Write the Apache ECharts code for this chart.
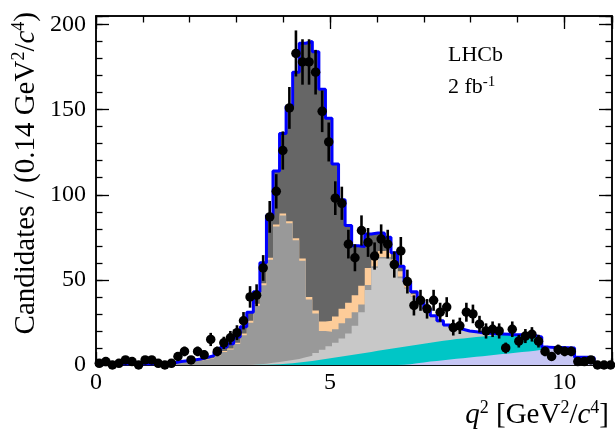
<!DOCTYPE html>
<html><head><meta charset="utf-8">
<script src="https://cdn.jsdelivr.net/npm/echarts@6/dist/echarts.min.js"></script>
<style>html,body{margin:0;padding:0;background:#fff}#c{width:615px;height:439px}</style>
</head><body><div id="c"></div>
<script>
// ---- data (79 bins of 0.14 GeV^2/c^4 starting at 0) ----
const binWidth = 0.14;
const dataCounts = [1,2,0,1,3,2,0,3,3,1,0,1,5,8,3,8,6,15,8,13,16,19,26,40,41,57,87,102,126,151,183,178,178,172,149,131,98,95,71,63,79,72,64,74,71,59,67,49,35,38,33,38,31,34,22,23,31,30,24,20,21,20,10,21,14,17,18,14,8,5,9,8,8,2,2,3,0,0,0];
const lavender = [0,0,0,0,0,0,0,0,0,0, 0,0,0,0,0,0,0,0,0,0, 0,0,0,0,0,0,0,0,0,0, 0,0,0,0,0,0,0,0,0,0, 0,0,0,0,0,0,0.2,0.5,1,1.5, 2,2.4,2.8,3.2,3.6,4,4.4,4.8,5.2,5.6, 6,6.4,6.8,7.2,7.6,8,8.4,9,10.5,10.3, 10.3,10.2,10,4.5,4.5,4.2,0.8,0.5,0.5];
const cyan = [0,0,0,0,0,0,0,0,0,0, 0,0,0,0,0,0,0,0,0,0, 0,0,0.02,0.05,0.1,0.2,0.3,0.5,0.8,1.1, 1.5,1.9,2.4,2.9,3.5,4.1,4.7,5.3,5.9,6.5, 7.1,7.7,8.3,8.9,9.5,10.1,10.5,10.8,10.9,11.0, 11.1,11.3,11.4,11.5,11.6,11.6,11.6,11.6,11.6,11.5, 11.4,11.2,11.0,10.6,10.2,9.6,8.8,7.5,0,0, 0,0,0,0,0,0,0,0,0];
const lightGrey = [0,0,0,0,0,0,0,0,0,0, 0,0,0,0,0,0,0,0,0,0, 0,0,0.03,0.15,0.4,0.6,1.0,1.3,1.6,1.9, 2.0,2.6,3.1,4.1,5.5,6.9,8.3,10.2,12.6,16.5, 23.9,36.3,48.7,53.6,52.5,47.9,40.3,33.7,28.1,23, 18.1,14,10.8,8.1,6.3,5.1,3.8,3.0,2.2,1.5, 1.0,0.6,0.2,0,0,0,0,0,0,0, 0,0,0,0,0,0,0,0,0];
const mediumGrey = [0.8,0.8,0.8,0.8,0.8,0.8,0.8,0.8,0.8,0.8, 1.0,1.2,1.8,2.1,2.4,2.5,3.3,3.8,5.3,7.7, 9.1,12.3,17.4,24.6,34.3,46,60.5,79.5,85.4,80.3, 69.8,56.8,33,23.2,11,8.5,8,9,9,8, 4.6,3,1,1,1.5,1,1,0.5,0.3,0.5, 0.3,0.2,0.2,0.1,0.1,0.1,0,0,0,0, 0,0,0,0,0,0,0,0,0,0, 0,0,0,0,0,0,0,0,0];
const peach = [0,0,0,0,0,0,0,0,0,0, 0,0,0,0.1,0.1,0.2,0.2,0.3,0.4,0.5, 0.6,0.8,1.0,1.2,1.2,1.2,1.2,1.2,1.2,1.2, 1.2,1.2,1.5,1.8,5.5,6.5,7.5,8.5,9,10, 11,10,6,3.5,4,3,3,1.5,1.2,1.0, 0.8,0.6,0.5,0.4,0.3,0.2,0.2,0.1,0,0, 0,0,0,0,0,0,0,0,0,0, 0,0,0,0,0,0,0,0,0];
const darkGrey = [0,0,0,0,0,0,0,0,0,0, 0,0.1,0.2,0.3,0.5,0.8,1.0,1.4,1.8,2.3, 2.8,3.4,4,5,7,12,25,31.5,47,67.5, 97.5,126.5,150,152,136.5,119,89.5,64,45.5,29, 23,20,13.5,10.5,7.5,4,3,2,1.5,1, 0.7,0.5,0.3,0.2,0.1,0,0,0,0,0, 0,0,0,0,0,0,0,0,0,0, 0,0,0,0,0,0,0,0,0];
const xTickLabels = ['0','5','10'];
const yTickLabels = ['0','50','100','150','200'];

// ---- helpers ----
function stepData(vals){
  const d = vals.map((v,i)=>[+(i*binWidth).toFixed(3), v]);
  d.push([+(vals.length*binWidth).toFixed(3), vals[vals.length-1]]);
  return d;
}
const comps = [
  {vals: lavender,   color:'#c6c6f4'},
  {vals: cyan,       color:'#00c6c6'},
  {vals: lightGrey,  color:'#c8c8c8'},
  {vals: mediumGrey, color:'#999999'},
  {vals: peach,      color:'#fdcc99'},
  {vals: darkGrey,   color:'#666666'}
];
// cumulative tops (bottom -> top)
const cum = [];
comps.forEach((c,k)=>{
  cum.push(c.vals.map((v,i)=> v + (k>0 ? cum[k-1][i] : 0)));
});
const total = cum[cum.length-1];
const centers = dataCounts.map((_,i)=>+((i+0.5)*binWidth).toFixed(3));

const FONT = '"Liberation Serif", "Times New Roman", serif';
const XMAX = 11.02, YMAX = 205;

function mkX(pos, interval, len, labels){
  return {type:'value', min:0, max:XMAX, interval:interval, position:pos,
    axisLine:{show:true, onZero:false, lineStyle:{color:'#000', width:1.5}},
    axisTick:{show:true, inside:true, length:len, lineStyle:{color:'#000', width:1.3}},
    axisLabel:{show:labels, margin:6, color:'#000', fontFamily:FONT, fontSize:24,
      formatter:(v)=>{const s=String(v); return xTickLabels.includes(s)?s:'';}},
    splitLine:{show:false}};
}
function mkY(pos, interval, len, labels){
  return {type:'value', min:0, max:YMAX, interval:interval, position:pos,
    axisLine:{show:true, onZero:false, lineStyle:{color:'#000', width:1.5}},
    axisTick:{show:true, inside:true, length:len, lineStyle:{color:'#000', width:1.3}},
    axisLabel:{show:labels, margin:10, color:'#000', fontFamily:FONT, fontSize:24,
      formatter:(v)=>{const s=String(v); return yTickLabels.includes(s)?s:'';}},
    splitLine:{show:false}};
}

// draw cumulative areas from the top component down, each filled to zero
const series = [];
for (let k = comps.length-1; k >= 0; k--) {
  series.push({type:'line', step:'end', data:stepData(cum[k]), symbol:'none',
    lineStyle:{width:0, opacity:0}, areaStyle:{color:comps[k].color, opacity:1, origin:'start'},
    silent:true, animation:false, z:2});
}
series.push({type:'line', step:'end', data:stepData(total), symbol:'none',
  lineStyle:{color:'#0000ff', width:3}, silent:true, animation:false, z:3});
series.push({type:'custom', clip:false, animation:false, z:4,
  data: centers.map((x,i)=>[x, dataCounts[i], Math.sqrt(dataCounts[i])]),
  encode:{x:0, y:1},
  renderItem:(params, api)=>{
    const x=api.value(0), y=api.value(1), e=api.value(2);
    if(!(e>0)) return null;
    const p1=api.coord([x,y-e]), p2=api.coord([x,y+e]);
    return {type:'line', shape:{x1:p1[0],y1:p1[1],x2:p2[0],y2:p2[1]}, style:{stroke:'#000', lineWidth:2.6}};
  }});
series.push({type:'scatter', clip:false, animation:false, z:5, symbolSize:9.5,
  data: centers.map((x,i)=>[x, dataCounts[i]]), itemStyle:{color:'#000', opacity:1},
  emphasis:{disabled:true}});

const supTitle = {fontFamily:FONT, fontSize:18, lineHeight:18, verticalAlign:'top', fill:'#000', color:'#000'};
const nTitle = {fontFamily:FONT, fontSize:29, lineHeight:32, fill:'#000', color:'#000'};
const iTitle = {fontFamily:FONT, fontSize:29, lineHeight:32, fontStyle:'italic', fill:'#000', color:'#000'};

const chart = echarts.init(document.getElementById('c'), null, {renderer:'canvas'});
chart.setOption({
  animation:false,
  backgroundColor:'#fff',
  grid:{left:96, right:3, top:16, bottom:74, containLabel:false},
  xAxis:[mkX('bottom',5,13,true), mkX('bottom',1,6.5,false), mkX('top',5,13,false), mkX('top',1,6.5,false)],
  yAxis:[mkY('left',50,13,true), mkY('left',10,6.5,false), mkY('right',50,13,false), mkY('right',10,6.5,false)],
  series: series,
  graphic:[
    {type:'text', x:448, y:55, silent:true, style:{text:'LHCb', fontFamily:FONT, fontSize:22, fill:'#000', align:'left', verticalAlign:'middle'}},
    {type:'text', x:448, y:87, silent:true, style:{text:'{n|2 fb}{s|-1}', align:'left', verticalAlign:'middle',
      rich:{n:{fontFamily:FONT, fontSize:22, lineHeight:24, fill:'#000'}, s:{fontFamily:FONT, fontSize:15, lineHeight:17, verticalAlign:'top', fill:'#000'}}}},
    {type:'text', x:609, y:415, silent:true, style:{text:'{i|q}{s|2}{n| [GeV}{s|2}{n|/}{i|c}{s|4}{n|]}', align:'right', verticalAlign:'middle',
      rich:{n:nTitle, i:iTitle, s:supTitle}}},
    {type:'text', x:26.5, y:12, rotation:Math.PI/2, silent:true, style:{text:'{n|Candidates / (0.14 GeV}{s|2}{n|/}{i|c}{s|4}{n|)}', align:'right', verticalAlign:'middle',
      rich:{n:nTitle, i:iTitle, s:supTitle}}}
  ]
});
</script></body></html>
